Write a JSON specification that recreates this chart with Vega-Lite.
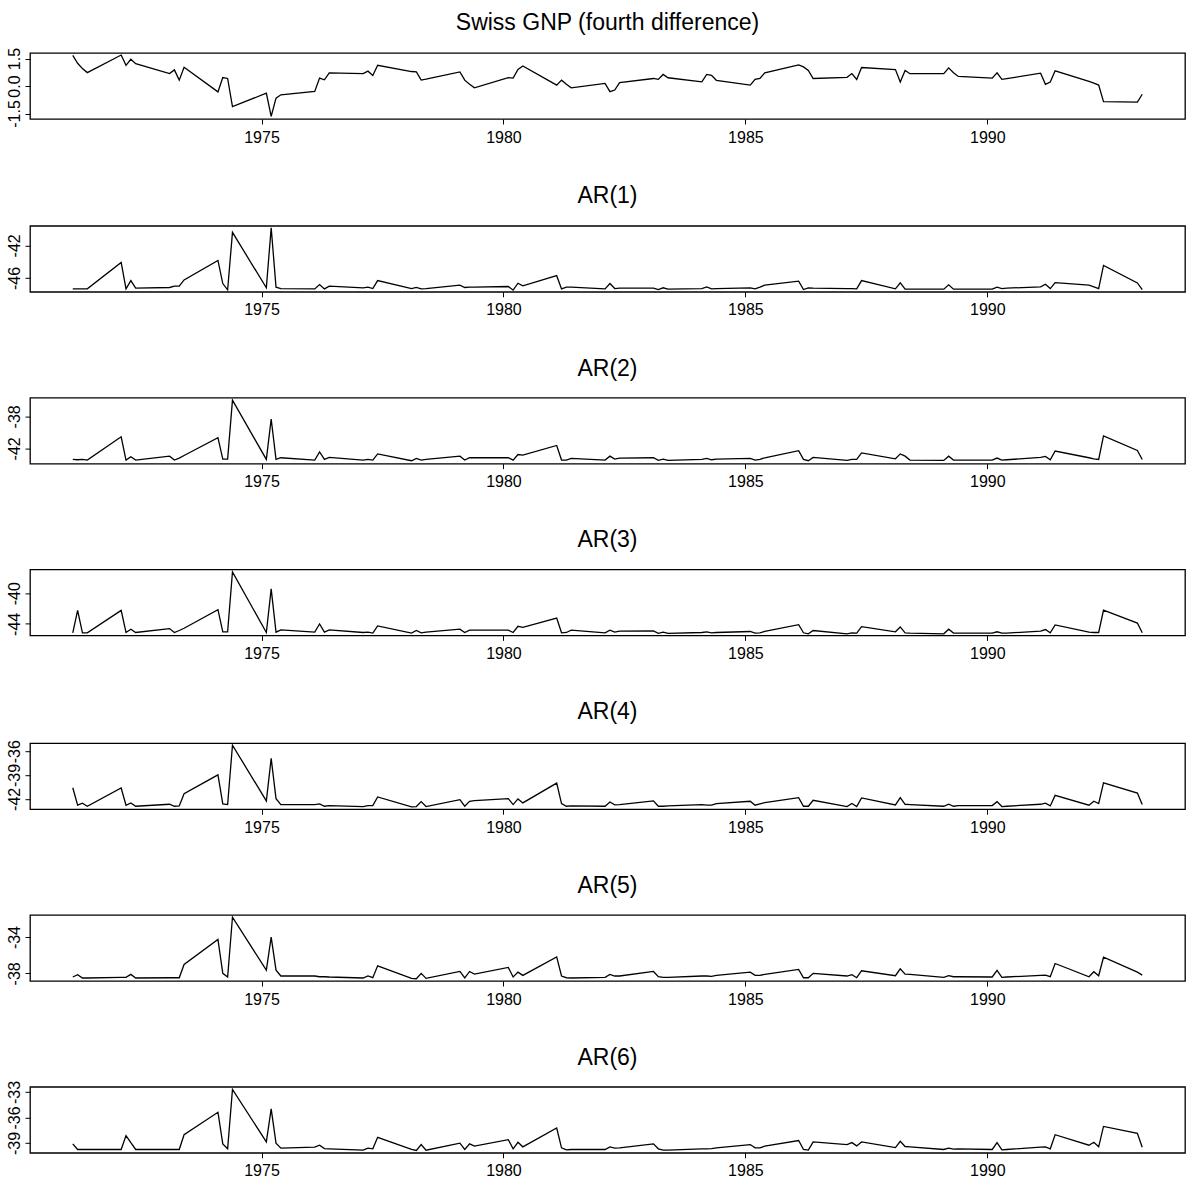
{
"$schema":"https://vega.github.io/schema/vega-lite/v6.json",
"padding":{"left":5,"top":11,"right":2,"bottom":5},
"spacing":37.8,
"config":{
 "font":"Liberation Sans",
 "view":{"stroke":"black","strokeWidth":1.3},
 "axis":{"domain":false,"grid":false,"tickColor":"black","tickSize":5,"labelColor":"black","labelFont":"Liberation Sans","labelFontSize":16,"title":null,"labelPadding":3},
 "axisX":{"labelPadding":5},
 "axisY":{"labelAngle":270,"labelAlign":"center"},
 "title":{"fontSize":23,"fontWeight":"normal","color":"black","anchor":"middle","frame":"group","font":"Liberation Sans","offset":17},
 "line":{"color":"black","strokeWidth":1.3}
},
"datasets":{"d":[
{"t":1971.1,"gnp":1.67,"ar1":-47.34,"ar2":-43.38,"ar3":-45.16,"ar4":-40.60,"ar5":-38.40,"ar6":-39.11},
{"t":1971.2,"gnp":1.24,"ar1":-47.34,"ar2":-43.42,"ar3":-42.24,"ar4":-42.80,"ar5":-38.15,"ar6":-39.77},
{"t":1971.3,"gnp":0.95,"ar1":-47.34,"ar2":-43.38,"ar3":-45.16,"ar4":-42.55,"ar5":-38.51,"ar6":-39.77},
{"t":1971.4,"gnp":0.73,"ar1":-47.34,"ar2":-43.46,"ar3":-45.16,"ar4":-42.93,"ar5":-38.51,"ar6":-39.77},
{"t":1972.1,"gnp":1.69,"ar1":-44.10,"ar2":-40.55,"ar3":-42.24,"ar4":-40.64,"ar5":-38.44,"ar6":-39.77},
{"t":1972.2,"gnp":1.13,"ar1":-47.34,"ar2":-43.46,"ar3":-45.12,"ar4":-42.80,"ar5":-38.44,"ar6":-38.14},
{"t":1972.3,"gnp":1.46,"ar1":-46.32,"ar2":-43.05,"ar3":-44.69,"ar4":-42.51,"ar5":-38.11,"ar6":-38.96},
{"t":1972.4,"gnp":1.22,"ar1":-47.25,"ar2":-43.46,"ar3":-45.12,"ar4":-42.93,"ar5":-38.51,"ar6":-39.77},
{"t":1973.1,"gnp":0.68,"ar1":-47.17,"ar2":-42.97,"ar3":-44.61,"ar4":-42.68,"ar5":-38.48,"ar6":-39.77},
{"t":1973.2,"gnp":0.88,"ar1":-47.01,"ar2":-43.46,"ar3":-45.12,"ar4":-42.93,"ar5":-38.48,"ar6":-39.77},
{"t":1973.3,"gnp":0.32,"ar1":-47.01,"ar2":-43.21,"ar3":-44.86,"ar4":-42.89,"ar5":-38.48,"ar6":-39.77},
{"t":1973.4,"gnp":1.02,"ar1":-46.24,"ar2":-42.89,"ar3":-44.57,"ar4":-41.35,"ar5":-37.02,"ar6":-38.03},
{"t":1974.1,"gnp":-0.32,"ar1":-43.85,"ar2":-40.67,"ar3":-42.15,"ar4":-38.98,"ar5":-34.26,"ar6":-35.39},
{"t":1974.2,"gnp":0.46,"ar1":-46.69,"ar2":-43.34,"ar3":-45.03,"ar4":-42.64,"ar5":-38.00,"ar6":-39.11},
{"t":1974.3,"gnp":0.41,"ar1":-47.46,"ar2":-43.34,"ar3":-45.03,"ar4":-42.72,"ar5":-38.40,"ar6":-39.69},
{"t":1974.4,"gnp":-1.13,"ar1":-40.41,"ar2":-35.98,"ar3":-37.24,"ar4":-35.25,"ar5":-31.82,"ar6":-32.71},
{"t":1975.1,"gnp":-0.39,"ar1":-47.21,"ar2":-43.38,"ar3":-45.12,"ar4":-42.26,"ar5":-37.64,"ar6":-38.88},
{"t":1975.2,"gnp":-1.66,"ar1":-39.84,"ar2":-38.33,"ar3":-39.44,"ar4":-36.91,"ar5":-34.01,"ar6":-35.00},
{"t":1975.3,"gnp":-0.66,"ar1":-47.13,"ar2":-43.38,"ar3":-45.08,"ar4":-41.97,"ar5":-37.64,"ar6":-39.03},
{"t":1975.4,"gnp":-0.48,"ar1":-47.30,"ar2":-43.17,"ar3":-44.78,"ar4":-42.72,"ar5":-38.29,"ar6":-39.62},
{"t":1976.1,"gnp":-0.30,"ar1":-47.34,"ar2":-43.46,"ar3":-45.08,"ar4":-42.72,"ar5":-38.29,"ar6":-39.50},
{"t":1976.2,"gnp":0.43,"ar1":-46.81,"ar2":-42.45,"ar3":-44.02,"ar4":-42.64,"ar5":-38.37,"ar6":-39.27},
{"t":1976.3,"gnp":0.34,"ar1":-47.34,"ar2":-43.38,"ar3":-45.08,"ar4":-42.93,"ar5":-38.37,"ar6":-39.66},
{"t":1976.4,"gnp":0.72,"ar1":-47.01,"ar2":-43.13,"ar3":-44.78,"ar4":-42.84,"ar5":-38.40,"ar6":-39.69},
{"t":1977.1,"gnp":0.68,"ar1":-47.21,"ar2":-43.46,"ar3":-45.12,"ar4":-42.97,"ar5":-38.51,"ar6":-39.85},
{"t":1977.2,"gnp":0.81,"ar1":-47.13,"ar2":-43.38,"ar3":-45.08,"ar4":-42.84,"ar5":-38.29,"ar6":-39.62},
{"t":1977.3,"gnp":0.57,"ar1":-47.30,"ar2":-43.46,"ar3":-45.20,"ar4":-42.84,"ar5":-38.48,"ar6":-39.69},
{"t":1977.4,"gnp":1.13,"ar1":-46.32,"ar2":-42.69,"ar3":-44.27,"ar4":-41.76,"ar5":-37.17,"ar6":-38.34},
{"t":1978.1,"gnp":0.79,"ar1":-47.30,"ar2":-43.54,"ar3":-45.20,"ar4":-43.01,"ar5":-38.55,"ar6":-39.77},
{"t":1978.2,"gnp":0.77,"ar1":-47.17,"ar2":-43.26,"ar3":-44.86,"ar4":-42.97,"ar5":-38.59,"ar6":-39.89},
{"t":1978.3,"gnp":0.32,"ar1":-47.34,"ar2":-43.46,"ar3":-45.16,"ar4":-42.35,"ar5":-38.00,"ar6":-39.19},
{"t":1978.4,"gnp":0.37,"ar1":-47.30,"ar2":-43.38,"ar3":-45.08,"ar4":-42.97,"ar5":-38.55,"ar6":-39.85},
{"t":1979.1,"gnp":0.77,"ar1":-46.89,"ar2":-42.97,"ar3":-44.69,"ar4":-42.10,"ar5":-37.79,"ar6":-39.03},
{"t":1979.2,"gnp":0.32,"ar1":-47.17,"ar2":-43.46,"ar3":-45.12,"ar4":-42.93,"ar5":-38.51,"ar6":-39.77},
{"t":1979.3,"gnp":0.10,"ar1":-47.13,"ar2":-43.17,"ar3":-44.82,"ar4":-42.30,"ar5":-37.79,"ar6":-39.11},
{"t":1979.4,"gnp":-0.10,"ar1":-47.13,"ar2":-43.17,"ar3":-44.82,"ar4":-42.22,"ar5":-38.08,"ar6":-39.38},
{"t":1980.1,"gnp":0.46,"ar1":-47.05,"ar2":-43.17,"ar3":-44.82,"ar4":-41.97,"ar5":-37.35,"ar6":-38.61},
{"t":1980.2,"gnp":0.43,"ar1":-47.50,"ar2":-43.46,"ar3":-45.12,"ar4":-42.72,"ar5":-38.40,"ar6":-39.69},
{"t":1980.3,"gnp":0.90,"ar1":-46.65,"ar2":-42.77,"ar3":-44.31,"ar4":-42.01,"ar5":-37.86,"ar6":-38.92},
{"t":1980.4,"gnp":1.09,"ar1":-46.97,"ar2":-42.85,"ar3":-44.44,"ar4":-42.51,"ar5":-38.22,"ar6":-39.46},
{"t":1981.1,"gnp":0.05,"ar1":-45.72,"ar2":-41.64,"ar3":-43.25,"ar4":-40.02,"ar5":-36.19,"ar6":-37.25},
{"t":1981.2,"gnp":0.32,"ar1":-47.34,"ar2":-43.46,"ar3":-45.16,"ar4":-42.59,"ar5":-38.29,"ar6":-39.58},
{"t":1981.3,"gnp":0.10,"ar1":-47.13,"ar2":-43.46,"ar3":-45.12,"ar4":-42.93,"ar5":-38.48,"ar6":-39.81},
{"t":1981.4,"gnp":-0.10,"ar1":-47.13,"ar2":-43.26,"ar3":-44.82,"ar4":-42.89,"ar5":-38.51,"ar6":-39.77},
{"t":1982.1,"gnp":0.14,"ar1":-47.34,"ar2":-43.46,"ar3":-45.16,"ar4":-42.93,"ar5":-38.44,"ar6":-39.77},
{"t":1982.2,"gnp":-0.31,"ar1":-46.69,"ar2":-42.97,"ar3":-44.82,"ar4":-42.39,"ar5":-38.11,"ar6":-39.46},
{"t":1982.3,"gnp":-0.22,"ar1":-47.30,"ar2":-43.34,"ar3":-45.08,"ar4":-42.76,"ar5":-38.29,"ar6":-39.62},
{"t":1982.4,"gnp":0.18,"ar1":-47.25,"ar2":-43.21,"ar3":-44.95,"ar4":-42.72,"ar5":-38.29,"ar6":-39.58},
{"t":1983.1,"gnp":0.41,"ar1":-47.25,"ar2":-43.17,"ar3":-44.91,"ar4":-42.26,"ar5":-37.79,"ar6":-39.11},
{"t":1983.2,"gnp":0.36,"ar1":-47.42,"ar2":-43.50,"ar3":-45.24,"ar4":-42.93,"ar5":-38.37,"ar6":-39.69},
{"t":1983.3,"gnp":0.63,"ar1":-47.21,"ar2":-43.34,"ar3":-45.08,"ar4":-42.93,"ar5":-38.44,"ar6":-39.85},
{"t":1983.4,"gnp":0.45,"ar1":-47.38,"ar2":-43.50,"ar3":-45.24,"ar4":-42.89,"ar5":-38.44,"ar6":-39.85},
{"t":1984.1,"gnp":0.23,"ar1":-47.30,"ar2":-43.38,"ar3":-45.12,"ar4":-42.72,"ar5":-38.29,"ar6":-39.69},
{"t":1984.2,"gnp":0.63,"ar1":-47.09,"ar2":-43.26,"ar3":-45.03,"ar4":-42.80,"ar5":-38.29,"ar6":-39.69},
{"t":1984.3,"gnp":0.58,"ar1":-47.34,"ar2":-43.42,"ar3":-45.16,"ar4":-42.80,"ar5":-38.33,"ar6":-39.66},
{"t":1984.4,"gnp":0.31,"ar1":-47.30,"ar2":-43.34,"ar3":-45.12,"ar4":-42.59,"ar5":-38.22,"ar6":-39.58},
{"t":1985.1,"gnp":0.05,"ar1":-47.21,"ar2":-43.26,"ar3":-44.99,"ar4":-42.30,"ar5":-37.86,"ar6":-39.19},
{"t":1985.2,"gnp":0.36,"ar1":-47.34,"ar2":-43.46,"ar3":-45.20,"ar4":-42.80,"ar5":-38.22,"ar6":-39.58},
{"t":1985.3,"gnp":0.41,"ar1":-47.13,"ar2":-43.38,"ar3":-45.16,"ar4":-42.64,"ar5":-38.22,"ar6":-39.58},
{"t":1985.4,"gnp":0.72,"ar1":-46.89,"ar2":-43.17,"ar3":-44.99,"ar4":-42.47,"ar5":-38.11,"ar6":-39.38},
{"t":1986.1,"gnp":1.15,"ar1":-46.40,"ar2":-42.29,"ar3":-44.10,"ar4":-41.85,"ar5":-37.57,"ar6":-38.72},
{"t":1986.2,"gnp":1.04,"ar1":-47.42,"ar2":-43.38,"ar3":-45.16,"ar4":-42.93,"ar5":-38.48,"ar6":-39.77},
{"t":1986.3,"gnp":0.85,"ar1":-47.21,"ar2":-43.54,"ar3":-45.29,"ar4":-42.93,"ar5":-38.48,"ar6":-39.85},
{"t":1986.4,"gnp":0.41,"ar1":-47.25,"ar2":-43.13,"ar3":-44.86,"ar4":-42.18,"ar5":-38.00,"ar6":-38.88},
{"t":1987.1,"gnp":0.47,"ar1":-47.30,"ar2":-43.50,"ar3":-45.29,"ar4":-42.97,"ar5":-38.29,"ar6":-39.19},
{"t":1987.2,"gnp":0.68,"ar1":-47.30,"ar2":-43.38,"ar3":-45.16,"ar4":-42.59,"ar5":-38.15,"ar6":-38.96},
{"t":1987.3,"gnp":0.36,"ar1":-47.34,"ar2":-43.38,"ar3":-45.20,"ar4":-42.97,"ar5":-38.48,"ar6":-39.35},
{"t":1987.4,"gnp":1.01,"ar1":-46.32,"ar2":-42.57,"ar3":-44.36,"ar4":-41.89,"ar5":-37.71,"ar6":-38.88},
{"t":1988.1,"gnp":0.90,"ar1":-47.34,"ar2":-43.30,"ar3":-45.03,"ar4":-42.76,"ar5":-38.26,"ar6":-39.54},
{"t":1988.2,"gnp":0.22,"ar1":-46.61,"ar2":-42.69,"ar3":-44.40,"ar4":-41.85,"ar5":-37.50,"ar6":-38.80},
{"t":1988.3,"gnp":0.85,"ar1":-47.38,"ar2":-42.97,"ar3":-45.16,"ar4":-42.68,"ar5":-38.08,"ar6":-39.42},
{"t":1988.4,"gnp":0.67,"ar1":-47.38,"ar2":-43.46,"ar3":-45.20,"ar4":-42.72,"ar5":-38.11,"ar6":-39.46},
{"t":1989.1,"gnp":0.67,"ar1":-47.38,"ar2":-43.50,"ar3":-45.29,"ar4":-42.93,"ar5":-38.44,"ar6":-39.77},
{"t":1989.2,"gnp":0.99,"ar1":-46.85,"ar2":-42.97,"ar3":-44.69,"ar4":-42.68,"ar5":-38.26,"ar6":-39.62},
{"t":1989.3,"gnp":0.72,"ar1":-47.38,"ar2":-43.46,"ar3":-45.20,"ar4":-42.93,"ar5":-38.37,"ar6":-39.73},
{"t":1989.4,"gnp":0.52,"ar1":-47.38,"ar2":-43.46,"ar3":-45.20,"ar4":-42.84,"ar5":-38.37,"ar6":-39.69},
{"t":1990.1,"gnp":0.43,"ar1":-47.38,"ar2":-43.46,"ar3":-45.20,"ar4":-42.84,"ar5":-38.40,"ar6":-39.77},
{"t":1990.2,"gnp":0.72,"ar1":-47.13,"ar2":-43.21,"ar3":-45.03,"ar4":-42.35,"ar5":-37.68,"ar6":-38.96},
{"t":1990.3,"gnp":0.36,"ar1":-47.30,"ar2":-43.46,"ar3":-45.20,"ar4":-42.97,"ar5":-38.44,"ar6":-39.81},
{"t":1990.4,"gnp":0.40,"ar1":-47.25,"ar2":-43.42,"ar3":-45.20,"ar4":-42.93,"ar5":-38.40,"ar6":-39.77},
{"t":1991.1,"gnp":0.70,"ar1":-47.09,"ar2":-43.13,"ar3":-44.95,"ar4":-42.68,"ar5":-38.22,"ar6":-39.50},
{"t":1991.2,"gnp":0.09,"ar1":-46.77,"ar2":-43.01,"ar3":-44.74,"ar4":-42.55,"ar5":-38.19,"ar6":-39.46},
{"t":1991.3,"gnp":0.22,"ar1":-47.30,"ar2":-43.42,"ar3":-45.16,"ar4":-42.89,"ar5":-38.37,"ar6":-39.69},
{"t":1991.4,"gnp":0.83,"ar1":-46.57,"ar2":-42.33,"ar3":-44.14,"ar4":-41.56,"ar5":-36.91,"ar6":-38.03},
{"t":1992.1,"gnp":0.25,"ar1":-46.89,"ar2":-43.17,"ar3":-45.08,"ar4":-42.80,"ar5":-38.37,"ar6":-39.27},
{"t":1992.2,"gnp":0.16,"ar1":-47.09,"ar2":-43.30,"ar3":-45.12,"ar4":-42.30,"ar5":-37.82,"ar6":-38.92},
{"t":1992.3,"gnp":0.05,"ar1":-47.30,"ar2":-43.38,"ar3":-45.12,"ar4":-42.59,"ar5":-38.26,"ar6":-39.46},
{"t":1992.4,"gnp":-0.85,"ar1":-44.46,"ar2":-40.43,"ar3":-42.20,"ar4":-39.98,"ar5":-36.22,"ar6":-37.06},
{"t":1993.1,"gnp":-0.88,"ar1":-46.61,"ar2":-42.25,"ar3":-43.89,"ar4":-41.27,"ar5":-37.86,"ar6":-37.87},
{"t":1993.2,"gnp":-0.45,"ar1":-47.42,"ar2":-43.38,"ar3":-45.16,"ar4":-42.72,"ar5":-38.19,"ar6":-39.50}
]},
"vconcat":[
{"title":{"text":"Swiss GNP (fourth difference)","offset":12},"width":1155,"height":66,"data":{"name":"d"},"mark":{"type":"line"},
 "encoding":{"x":{"field":"t","type":"quantitative","scale":{"domain":[1970.216,1994.084],"nice":false,"zero":false},"axis":{"values":[1975,1980,1985,1990],"labelExpr":"format(datum.value,'d')"}},
 "y":{"field":"gnp","type":"quantitative","scale":{"domain":[-1.8,1.8],"nice":false,"zero":false},"axis":{"values":[-1.5,0,1.5],"labelExpr":"(datum.value<0?'-':'')+format(abs(datum.value),'.1f')"}}}},
{"title":"AR(1)","width":1155,"height":66,"data":{"name":"d"},"mark":{"type":"line"},
 "encoding":{"x":{"field":"t","type":"quantitative","scale":{"domain":[1970.216,1994.084],"nice":false,"zero":false},"axis":{"values":[1975,1980,1985,1990],"labelExpr":"format(datum.value,'d')"}},
 "y":{"field":"ar1","type":"quantitative","scale":{"domain":[-47.7,-39.6],"nice":false,"zero":false},"axis":{"values":[-46,-42],"labelExpr":"(datum.value<0?'-':'')+format(abs(datum.value),'d')"}}}},
{"title":"AR(2)","width":1155,"height":66,"data":{"name":"d"},"mark":{"type":"line"},
 "encoding":{"x":{"field":"t","type":"quantitative","scale":{"domain":[1970.216,1994.084],"nice":false,"zero":false},"axis":{"values":[1975,1980,1985,1990],"labelExpr":"format(datum.value,'d')"}},
 "y":{"field":"ar2","type":"quantitative","scale":{"domain":[-43.9,-35.66],"nice":false,"zero":false},"axis":{"values":[-42,-38],"labelExpr":"(datum.value<0?'-':'')+format(abs(datum.value),'d')"}}}},
{"title":"AR(3)","width":1155,"height":66,"data":{"name":"d"},"mark":{"type":"line"},
 "encoding":{"x":{"field":"t","type":"quantitative","scale":{"domain":[1970.216,1994.084],"nice":false,"zero":false},"axis":{"values":[1975,1980,1985,1990],"labelExpr":"format(datum.value,'d')"}},
 "y":{"field":"ar3","type":"quantitative","scale":{"domain":[-45.5,-36.9],"nice":false,"zero":false},"axis":{"values":[-44,-40],"labelExpr":"(datum.value<0?'-':'')+format(abs(datum.value),'d')"}}}},
{"title":{"text":"AR(4)","offset":15.5},"width":1155,"height":66,"data":{"name":"d"},"mark":{"type":"line"},
 "encoding":{"x":{"field":"t","type":"quantitative","scale":{"domain":[1970.216,1994.084],"nice":false,"zero":false},"axis":{"values":[1975,1980,1985,1990],"labelExpr":"format(datum.value,'d')"}},
 "y":{"field":"ar4","type":"quantitative","scale":{"domain":[-43.3,-35.0],"nice":false,"zero":false},"axis":{"values":[-42,-39,-36],"labelExpr":"(datum.value<0?'-':'')+format(abs(datum.value),'d')"}}}},
{"title":"AR(5)","width":1155,"height":66,"data":{"name":"d"},"mark":{"type":"line"},
 "encoding":{"x":{"field":"t","type":"quantitative","scale":{"domain":[1970.216,1994.084],"nice":false,"zero":false},"axis":{"values":[1975,1980,1985,1990],"labelExpr":"format(datum.value,'d')"}},
 "y":{"field":"ar5","type":"quantitative","scale":{"domain":[-38.84,-31.57],"nice":false,"zero":false},"axis":{"values":[-38,-34],"labelExpr":"(datum.value<0?'-':'')+format(abs(datum.value),'d')"}}}},
{"title":{"text":"AR(6)","offset":10.5},"width":1155,"height":66,"data":{"name":"d"},"mark":{"type":"line"},
 "encoding":{"x":{"field":"t","type":"quantitative","scale":{"domain":[1970.216,1994.084],"nice":false,"zero":false},"axis":{"values":[1975,1980,1985,1990],"labelExpr":"format(datum.value,'d')"}},
 "y":{"field":"ar6","type":"quantitative","scale":{"domain":[-40.16,-32.4],"nice":false,"zero":false},"axis":{"values":[-39,-36,-33],"labelExpr":"(datum.value<0?'-':'')+format(abs(datum.value),'d')"}}}}
]
}
